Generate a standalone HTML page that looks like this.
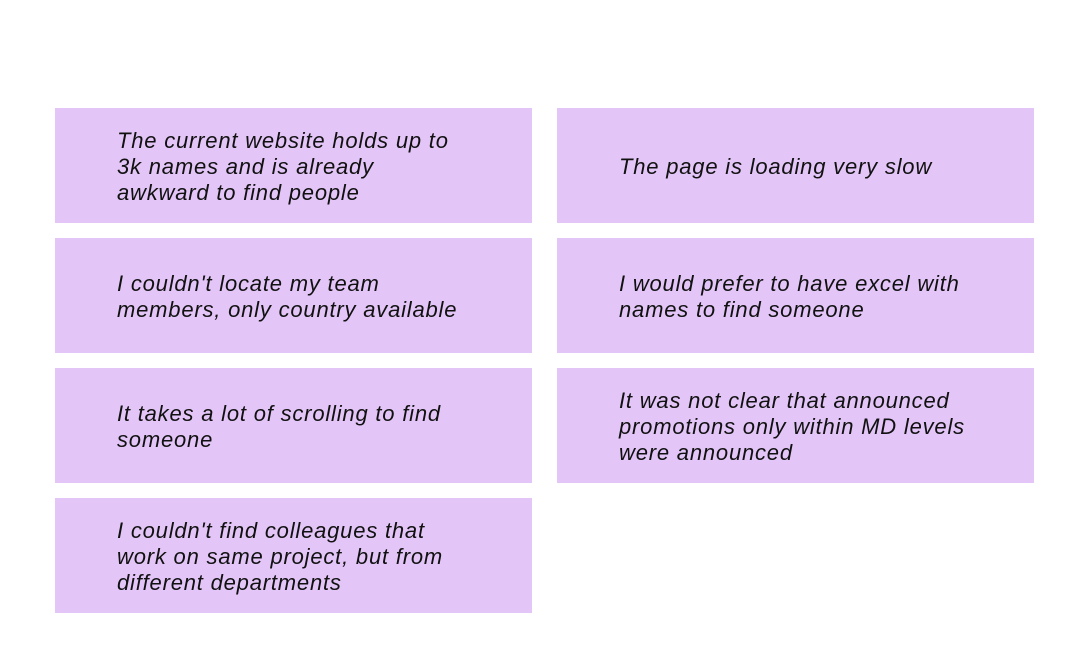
<!DOCTYPE html>
<html><head><meta charset="utf-8"><style>
html,body{margin:0;padding:0;background:#fff;width:1090px;height:656px;overflow:hidden}
.b{position:absolute;width:477px;height:115px;background:#e3c6f7;display:flex;align-items:center;box-sizing:border-box;padding-left:62px;padding-top:2px;
font-family:"Liberation Sans",sans-serif;font-style:italic;font-size:22px;line-height:26px;color:#111;letter-spacing:0.8px;white-space:nowrap}
.l{left:55px}.r{left:557px}
</style></head><body>
<div class="b l" style="top:108px">The current website holds up to<br>3k names and is already<br>awkward to find people</div>
<div class="b r" style="top:108px">The page is loading very slow</div>
<div class="b l" style="top:238px">I couldn't locate my team<br>members, only country available</div>
<div class="b r" style="top:238px">I would prefer to have excel with<br>names to find someone</div>
<div class="b l" style="top:368px">It takes a lot of scrolling to find<br>someone</div>
<div class="b r" style="top:368px">It was not clear that announced<br>promotions only within MD levels<br>were announced</div>
<div class="b l" style="top:498px">I couldn't find colleagues that<br>work on same project, but from<br>different departments</div>
</body></html>
